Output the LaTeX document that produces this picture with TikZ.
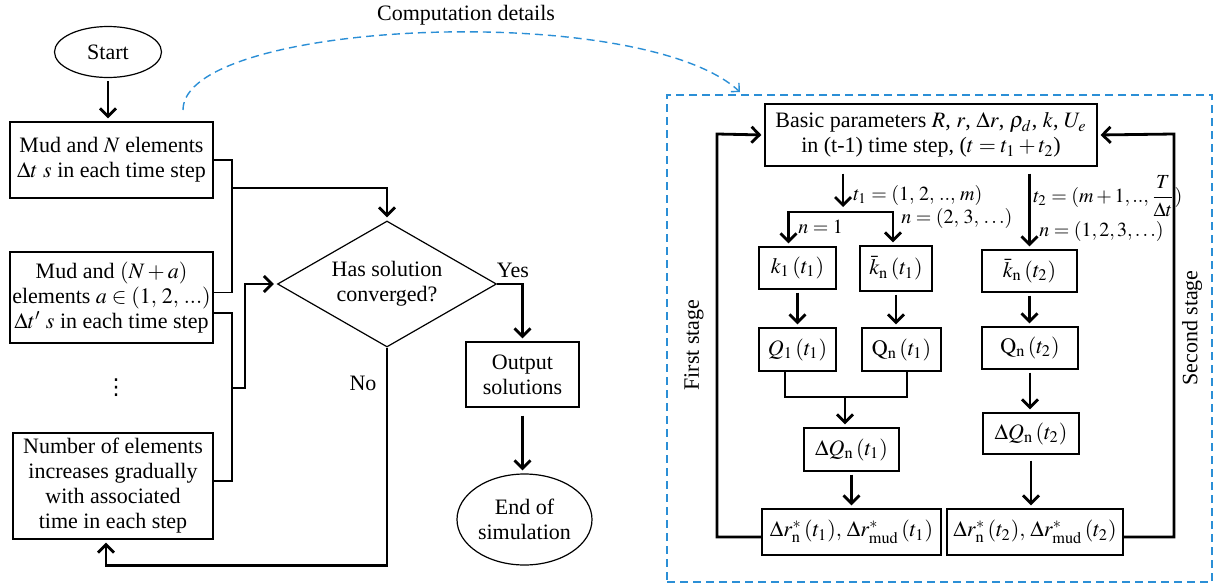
\documentclass[tikz,border=0pt]{standalone}
\usepackage{amsmath}
\usepackage{mathptmx}
\usepackage{fontspec}
\setmainfont{Liberation Serif}
\newfontfamily\dejavu{DejaVu Sans}
\usepackage{tikz}
\usetikzlibrary{arrows.meta,shapes.geometric,positioning,calc}
\definecolor{dashblue}{HTML}{2B8FD6}
\tikzset{
  box/.style={draw, line width=0.6pt, align=center, inner sep=1pt},
  oval/.style={draw, ellipse, line width=0.6pt, align=center, inner sep=0pt},
  wh/.style 2 args={minimum width=#1*0.5pt, minimum height=#2*0.5pt},
  arr/.style={line width=1.4pt, -{Straight Barb[length=4pt,width=8pt]}, shorten >=1.5pt, shorten <=1.5pt},
  link/.style={line width=0.6pt},
  lbl/.style={anchor=west, inner sep=1pt, font=\fontsize{10}{12}\selectfont},
  bluedash/.style={dashblue, line width=0.7pt, dash pattern=on 4pt off 2.5pt}
}
\begin{document}
\begin{tikzpicture}[x=0.5pt,y=-0.5pt,font=\fontsize{11}{12.5}\selectfont]
\useasboundingbox (0,0) rectangle (1216,584);
% main loop
\node[oval,wh={107}{51}] (start) at (108,52) {Start};
\node[box,wh={203}{76}] (mud1) at (111.5,160) {Mud and $N$ elements\\$\Delta t$ $s$ in each time step};
\node[box,wh={203}{91}] (mud2) at (111.5,297.5) {Mud and $(N+a)$\\elements $a\in(1,\,2,\,...)$\\$\Delta t'$ $s$ in each time step};
\node[font=\dejavu\fontsize{11}{11}\selectfont,inner sep=0pt] (dots) at (116,388) {⋮};
\node[box,wh={200}{106}] (num) at (113,486) {Number of elements\\increases gradually\\with associated\\time in each step};
\node[draw,diamond,aspect=1.74,wh={219}{126},inner sep=0pt,align=center,line width=0.6pt] (conv) at (387,284) {Has solution\\converged?};
\node[box,wh={113}{65}] (out) at (522.5,374.5) {Output\\solutions};
\node[oval,wh={135}{91}] (endn) at (524.5,519.5) {End of\\simulation};
\node (yes) at (513,270) {Yes};
\node (no) at (363,383) {No};

\coordinate (ja) at (232,188);
\coordinate (jb) at (232,388);
\draw[arr] (start.south) -- (start.south |- mud1.north);
\draw[link] (mud1.east) -| (ja) |- ([yshift=2.5pt]mud2.east);
\draw[arr,shorten <=0pt] (ja) -| (conv.north);
\draw[link] ([yshift=-7.75pt]mud2.east) -| (jb) |- ([yshift=2.5pt]num.east);
\draw[arr,shorten <=0pt] (jb) -- ++(13,0) |- (conv.west);
\draw[arr,shorten <=0pt] (conv.east) -| (out.north);
\draw[arr,shorten <=0pt] (conv.south) -- ++(0,218) -| ([xshift=-3.5pt]num.south);
\draw[arr,shorten <=4pt] (out.south) -- (out.south |- endn.north);

% computation details
\node[bluedash,draw,wh={545}{487},inner sep=0pt] (panel) at (939.5,338.5) {};
\node (comp) at (466,15) {Computation details};
\coordinate (cfrom) at (183,110);
\coordinate (cto) at (740,92);
\draw[bluedash,-{Straight Barb[length=3pt,width=6pt]}] (cfrom) .. controls (183,20) and (640,0) .. (cto);

\node[box,wh={332}{62}] (basic) at (931,135) {Basic parameters $R$, $r$, $\Delta r$, $\rho_d$, $k$, $U_e$\\in (t-1) time step, ($t=t_1+t_2$)};
\node[box,wh={77}{42}] (k1) at (797.5,268) {$k_1\,(t_1)$};
\node[box,wh={72}{45}] (kn1) at (896,268.5) {$\bar{k}_{\mathrm{n}}\,(t_1)$};
\node[box,wh={95}{42}] (kn2) at (1029.5,271) {$\bar{k}_{\mathrm{n}}\,(t_2)$};
\node[box,wh={77}{43}] (q1) at (797.5,349.5) {$Q_1\,(t_1)$};
\node[box,wh={79}{43}] (qn1) at (901.5,349.5) {$\mathrm{Q}_{\mathrm{n}}\,(t_1)$};
\node[box,wh={96}{42}] (qn2) at (1030,348) {$\mathrm{Q}_{\mathrm{n}}\,(t_2)$};
\node[box,wh={95}{43}] (dq1) at (851.5,449.5) {$\Delta Q_{\mathrm{n}}\,(t_1)$};
\node[box,wh={96}{41}] (dq2) at (1031,433.5) {$\Delta Q_{\mathrm{n}}\,(t_2)$};
\node[box,wh={179}{46}] (dr1) at (851.5,532) {$\Delta r^{*}_{\mathrm{n}}\,(t_1),\,\Delta r^{*}_{\mathrm{mud}}\,(t_1)$};
\node[box,wh={176}{46}] (dr2) at (1035,532) {$\Delta r^{*}_{\mathrm{n}}\,(t_2),\,\Delta r^{*}_{\mathrm{mud}}\,(t_2)$};

\node[lbl] (lt1) at (851,195) {$t_1=(1,\,2,\,..,\,m)$};
\node[lbl] (ln1) at (796,227) {$n=1$};
\node[lbl] (ln2) at (899,218) {$n=(2,\,3,\,\ldots)$};
\node[lbl] (lt2) at (1031,196) {$t_2=(m+1,..,\dfrac{T}{\Delta t})$};
\node[lbl] (ln3) at (1037,231) {$n=(1,2,3,\ldots)$};
\node[rotate=90] (first) at (694,345) {First stage};
\node[rotate=90] (second) at (1192,328) {Second stage};

\coordinate (s1) at (843,212);
\coordinate (m1) at (845,397);
\coordinate (fbl) at (717,134);
\coordinate (fbr) at (1174,134);
\draw[arr,shorten <=3.5pt,shorten >=2.5pt] (basic.south -| s1) -- (s1);
\draw[arr,shorten <=0pt] (s1) -| ([xshift=-4.5pt]k1.north);
\draw[arr,shorten <=0pt] (s1) -| ([xshift=-1.5pt]kn1.north);
\draw[arr,shorten <=3.5pt] (basic.south -| kn2) -- (kn2.north);
\draw[arr] (k1) -- (q1);
\draw[arr] (kn1.south) -- (kn1.south |- qn1.north);
\draw[arr] (kn2.south) -- (kn2.south |- qn2.north);
\draw[link] ([xshift=-6.25pt]q1.south) |- (m1) -| ([xshift=2.75pt]qn1.south);
\draw[arr,shorten <=0pt] (m1) -- (m1 |- dq1.north);
\draw[arr] (dq1) -- (dr1);
\draw[arr] (qn2.south) -- (qn2.south |- dq2.north);
\draw[arr,shorten <=3pt] (dq2.south) -- (dq2.south |- dr2.north);
\draw[arr,shorten <=0pt] ([yshift=-2.5pt]dr1.west) -| (fbl) -- (basic.west);
\draw[arr,shorten <=0pt] ([yshift=-2.5pt]dr2.east) -| (fbr) -- (basic.east);
\end{tikzpicture}
\end{document}
